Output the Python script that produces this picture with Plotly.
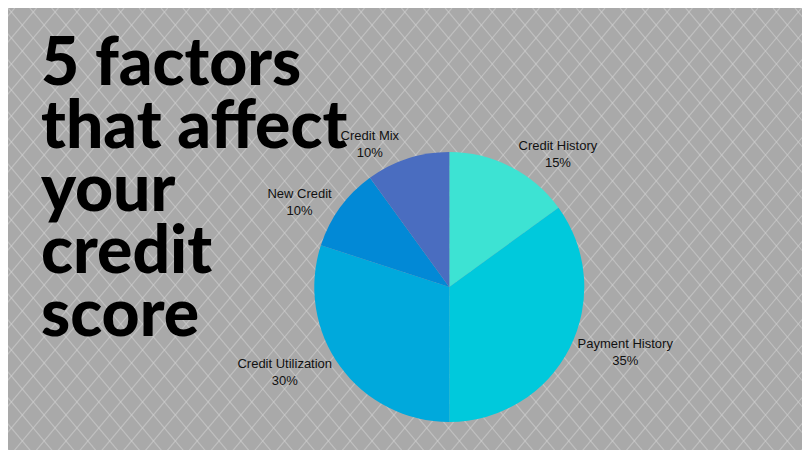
import plotly.graph_objects as go

labels = ["Credit History", "Payment History", "Credit Utilization", "New Credit", "Credit Mix"]
values = [15, 35, 30, 10, 10]
colors = ["#3de3d3", "#00c9dc", "#00a9dc", "#0289d6", "#4a6dc0"]
title_lines = ["5 factors", "that affect", "your", "credit", "score"]

fig = go.Figure(go.Pie(
    labels=labels, values=values, sort=False, direction="clockwise", rotation=0,
    marker=dict(colors=colors, line=dict(width=0)),
    texttemplate="%{label}<br>%{percent:.0%}", textposition="outside",
    textfont=dict(family="Liberation Sans", size=13, color="#111"),
    domain=dict(x=[0.348, 0.948], y=[0.08, 0.68]), showlegend=False, hoverinfo="skip"))

shapes = []
step = 26
for k in range(-40, 70):
    x0 = k * step
    shapes.append(dict(type="line", xref="paper", yref="paper", x0=x0/810, y0=0, x1=(x0+450)/810, y1=1,
                       line=dict(color="rgba(210,210,210,0.55)", width=1.2), layer="below"))
    shapes.append(dict(type="line", xref="paper", yref="paper", x0=x0/810, y0=1, x1=(x0+450)/810, y1=0,
                       line=dict(color="rgba(210,210,210,0.55)", width=1.2), layer="below"))

for i, t in enumerate(title_lines):
    fig.add_annotation(text=t, xref="paper", yref="paper", x=0.045, y=1 - (52 + 62.5 * i) / 450,
                       xanchor="left", yanchor="middle", align="left", showarrow=False,
                       font=dict(family="Lato", size=66, color="#000", weight=900))

fig.update_layout(width=810, height=450, margin=dict(l=0, r=0, t=0, b=0),
                  paper_bgcolor="#a9a9a9", plot_bgcolor="#a9a9a9", shapes=shapes)
fig.write_html("out.html")
